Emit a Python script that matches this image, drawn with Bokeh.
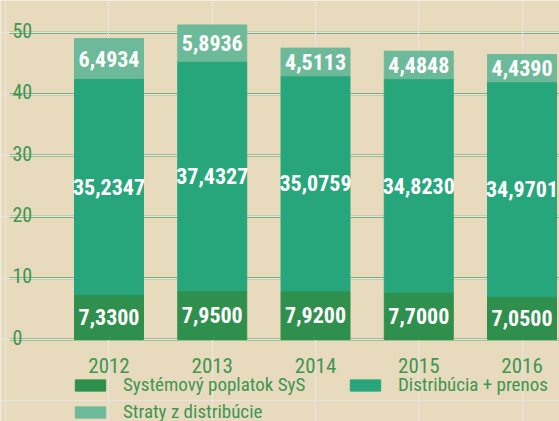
from bokeh.plotting import figure
from bokeh.models import ColumnDataSource, Legend, LegendItem, Range1d
from bokeh.core.properties import value
from bokeh.embed import file_html
from bokeh.resources import INLINE

# ---- data ----
years = ["2012", "2013", "2014", "2015", "2016"]
sys_fee = [7.3300, 7.9500, 7.9200, 7.7000, 7.0500]
distrib = [35.2347, 37.4327, 35.0759, 34.8230, 34.9701]
losses = [6.4934, 5.8936, 4.5113, 4.4848, 4.4390]
y_ticks = [0, 10, 20, 30, 40, 50]
series_names = ["Systémový poplatok SyS", "Distribúcia + prenos", "Straty z distribúcie"]

# ---- style ----
FONT = "Roboto Condensed, DejaVu Sans Condensed, Roboto, sans-serif"
BG = "#e8dbbd"
GREEN_TEXT = "#3e9652"
GRID = "#58a266"
C_SYS = "#2f8f4c"
C_DIST = "#27a67b"
C_LOSS = "#6dba9a"

W, H = 559, 421
X0, X1 = -1.0508, 4.363      # category index range across the full width
Y0, Y1 = -13.36, 55.27
GRID_LEFT_PX = 9

def fmt(v):
    return f"{v:.4f}".replace(".", ",")

xs = list(range(len(years)))
src = ColumnDataSource(dict(x=xs, sys=sys_fee, dist=distrib, loss=losses))

p = figure(width=W, height=H, x_range=Range1d(X0, X1), y_range=Range1d(Y0, Y1),
           output_backend="svg", toolbar_location=None,
           x_axis_location=None, y_axis_location=None, min_border=0,
           background_fill_color=BG, border_fill_color=BG, outline_line_color=None)

# horizontal gridlines at the y ticks
gx0 = X0 + GRID_LEFT_PX * (X1 - X0) / W
p.segment(x0=[gx0] * len(y_ticks), x1=[X1] * len(y_ticks), y0=y_ticks, y1=y_ticks,
          line_color=GRID, line_width=2, level="underlay")

rs = p.vbar_stack(["sys", "dist", "loss"], x="x", width=0.668,
                  color=[C_SYS, C_DIST, C_LOSS], source=src)

# value labels centered in segments
lx, ly, lt = [], [], []
for i in range(len(years)):
    base = 0.0
    for v in (sys_fee[i], distrib[i], losses[i]):
        lx.append(xs[i]); ly.append(base + v / 2); lt.append(fmt(v))
        base += v
p.text(x=lx, y=ly, text=lt, text_align="center", text_baseline="middle",
       text_color="white", text_font=value(FONT), text_font_style="bold",
       text_font_size="22px")

# y tick labels (inside plot, above gridlines)
p.text(x=[gx0] * len(y_ticks), y=y_ticks, text=[str(t) for t in y_ticks],
       x_offset=3, y_offset=-2.5, text_align="left", text_baseline="alphabetic",
       text_color=GREEN_TEXT, text_font=value(FONT), text_font_size="20px")

# x category labels
p.text(x=xs, y=[0] * len(xs), text=years, y_offset=26,
       text_align="center", text_baseline="alphabetic",
       text_color=GREEN_TEXT, text_font=value(FONT), text_font_size="21px")

def mk_legend(items, loc):
    return Legend(items=items, location=loc, orientation="vertical",
                  padding=0, margin=0, spacing=4, border_line_color=None,
                  background_fill_alpha=0, glyph_width=38, glyph_height=14,
                  label_standoff=14, label_text_font=FONT, label_text_font_size="19px",
                  label_text_color=GREEN_TEXT)

leg1 = mk_legend([LegendItem(label=series_names[0], renderers=[rs[0]]),
                  LegendItem(label=series_names[2], renderers=[rs[2]])], (71, -2))
leg2 = mk_legend([LegendItem(label=series_names[1], renderers=[rs[1]])], (346, 25))
p.add_layout(leg1)
p.add_layout(leg2)

open("out.html", "w").write(file_html(p, INLINE))
